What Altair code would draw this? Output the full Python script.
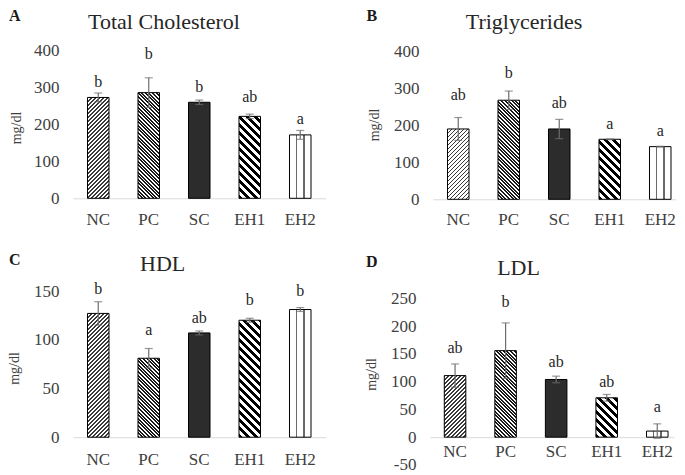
import altair as alt
import pandas as pd

# ---------------- data ----------------
groups = ["NC", "PC", "SC", "EH1", "EH2"]

tc_mean = [272, 285, 259, 221, 171]
tc_err = [12, 40, 6, 6, 12]
tc_sig = ["b", "b", "b", "ab", "a"]
tc_sig_at = [301, 375, 287, 261, 200]

tg_mean = [191, 269, 191, 163, 143]
tg_err = [31, 25, 26, 1, 1]
tg_sig = ["ab", "b", "ab", "a", "a"]
tg_sig_at = [269, 330, 249, 192, 171]

hdl_mean = [127, 81, 107, 120, 131]
hdl_err = [12, 10, 2, 2, 2]
hdl_sig = ["b", "a", "ab", "b", "b"]
hdl_sig_at = [147, 105, 117, 136, 145]

ldl_mean = [111, 156, 104, 71, 11]
ldl_err = [21, 50, 6, 6, 13]
ldl_sig = ["ab", "b", "ab", "ab", "a"]
ldl_sig_at = [151, 234, 126, 90, 46]

tc_ticks = [0, 100, 200, 300, 400]
tg_ticks = [0, 100, 200, 300, 400]
hdl_ticks = [0, 50, 100, 150]
ldl_ticks = [-50, 0, 50, 100, 150, 200, 250]

# ---------------- styles ----------------
SERIF = "Liberation Serif"
TXT = "#404040"
DARK = "#262626"
ERR = "#6e6e6e"
PAD_IN = 0.574

HATCH = {
    "NC": ("/", 4.0, 0.38, "#3a3a3a", "#ffffff"),
    "PC": ("\\", 3.6, 0.55, "#1a1a1a", "#ffffff"),
    "SC": ("solid", 0, 0, "#2c2c2c", "#2c2c2c"),
    "EH1": ("\\", 8.0, 0.5, "#000000", "#ffffff"),
    "EH2": ("v", 0, 0, "#6a6a6a", "#ffffff"),
}


def hatch_fill(group, w, h):
    kind, period, frac, dark, light = HATCH[group]
    if kind == "solid":
        return dark
    if kind == "v":
        stops = [{"offset": 0, "color": light}]
        for a, b in [(0.30, 0.36), (0.64, 0.70)]:
            stops += [
                {"offset": a, "color": light},
                {"offset": a, "color": dark},
                {"offset": b, "color": dark},
                {"offset": b, "color": light},
            ]
        stops.append({"offset": 1, "color": light})
        return {"gradient": "linear", "x1": 0, "y1": 0, "x2": 1, "y2": 0, "stops": stops}
    h = max(h, 1.0)
    span = w + h
    c = span * w * h / (w * w + h * h)
    if kind == "/":
        x1, y1, x2, y2 = 0, 0, c / h, c / w
    else:
        x1, y1, x2, y2 = 0, 1, c / h, 1 - c / w
    n = span / period
    stops = []
    k = 0
    while k / n < 1:
        a = k / n
        b = min((k + frac) / n, 1)
        e = min((k + 1) / n, 1)
        stops += [
            {"offset": round(a, 5), "color": dark},
            {"offset": round(b, 5), "color": dark},
            {"offset": round(b, 5), "color": light},
            {"offset": round(e, 5), "color": light},
        ]
        k += 1
    return {"gradient": "linear", "x1": x1, "y1": y1, "x2": x2, "y2": y2, "stops": stops}


D_PPU = 138.7 / 250
panels = [
    dict(title="Total Cholesterol", letter="A", mean=tc_mean, err=tc_err, sig=tc_sig,
         sig_at=tc_sig_at, ticks=tc_ticks, dom=[0, 400], W=252.5, H=148.3,
         pad_out=0.287, align=0.5,
         box=(-64, 290, -42, 190), tpos=(91, -37.8), lpos=(-64, -42), ypos=(-56.5, 78),
         lab_pad=13, xoff=0),
    dict(title="Triglycerides", letter="B", mean=tg_mean, err=tg_err, sig=tg_sig,
         sig_at=tg_sig_at, ticks=tg_ticks, dom=[0, 405.4], W=242.6, H=149.3,
         pad_out=0.189, align=0.759,
         box=(-69.4, 243.6, -42, 190), tpos=(91, -37.8), lpos=(-66.4, -42), ypos=(-58.4, 75),
         lab_pad=12, xoff=0),
    dict(title="HDL", letter="C", mean=hdl_mean, err=hdl_err, sig=hdl_sig,
         sig_at=hdl_sig_at, ticks=hdl_ticks, dom=[0, 150], W=252.5, H=146.2,
         pad_out=0.287, align=0.5,
         box=(-64, 290, -50.5, 183.5), tpos=(89.7, -36.6), lpos=(-64, -39.2), ypos=(-58, 77.5),
         lab_pad=14, xoff=0),
    dict(title="LDL", letter="D", mean=ldl_mean, err=ldl_err, sig=ldl_sig,
         sig_at=ldl_sig_at, ticks=ldl_ticks, dom=[-50, 250 + 7.5 / D_PPU], W=244, H=173.9,
         pad_out=0.2005, align=0.705,
         box=(-67, 246, -50.5, 183.5), tpos=(88.5, -33.3), lpos=(-64, -37.5), ypos=(-58, 83.5),
         lab_pad=6, xoff=-50 * D_PPU),
]


def make_panel(p):
    df = pd.DataFrame({
        "group": groups,
        "mean": p["mean"],
        "err": p["err"],
        "sig": p["sig"],
        "sig_at": p["sig_at"],
    })
    df["lo"] = df["mean"] - df["err"]
    df["hi"] = df["mean"] + df["err"]

    xscale = alt.Scale(domain=groups, paddingInner=PAD_IN, paddingOuter=p["pad_out"],
                       align=p["align"])
    yscale = alt.Scale(domain=p["dom"], nice=False)
    x_axis = alt.Axis(title=None, labelAngle=0, ticks=False, domainColor="#d9d9d9",
                      domainWidth=1, labelPadding=p["lab_pad"], labelFontSize=17,
                      labelFont=SERIF, labelColor=TXT, offset=p["xoff"], grid=False)
    y_axis = alt.Axis(title=None, values=p["ticks"], domain=False, ticks=False, grid=False,
                      labelPadding=14, labelFontSize=17, labelFont=SERIF, labelColor=TXT,
                      labelExpr="'' + datum.value")
    X = alt.X("group:N", scale=xscale, axis=x_axis, sort=groups)

    step = p["W"] / (len(groups) - PAD_IN + 2 * p["pad_out"])
    bw = step * (1 - PAD_IN)
    ppu = p["H"] / (p["dom"][1] - p["dom"][0])

    base = alt.Chart(df)
    layers = []
    for g, m in zip(groups, p["mean"]):
        layers.append(
            base.transform_filter(alt.datum.group == g)
            .mark_bar(fill=hatch_fill(g, bw, m * ppu), stroke="black", strokeWidth=1)
            .encode(x=X, y=alt.Y("mean:Q", scale=yscale, axis=y_axis))
        )
    layers.append(base.mark_rule(color=ERR, strokeWidth=1.2).encode(
        x=X, y=alt.Y("lo:Q", scale=yscale, axis=y_axis), y2="hi:Q"))
    layers.append(base.mark_tick(color=ERR, thickness=1.2, size=8).encode(
        x=X, y=alt.Y("hi:Q", scale=yscale, axis=y_axis)))
    layers.append(base.mark_tick(color=ERR, thickness=1.2, size=8).encode(
        x=X, y=alt.Y("lo:Q", scale=yscale, axis=y_axis)))
    layers.append(base.mark_text(font=SERIF, fontSize=16, baseline="alphabetic",
                                 fill=DARK, color=DARK).encode(
        x=X, y=alt.Y("sig_at:Q", scale=yscale, axis=y_axis), text="sig:N"))

    one = alt.Data(values=[{}])
    bx1, bx2, by1, by2 = p["box"]
    layers.append(alt.Chart(one).mark_rect(opacity=0).encode(
        x=alt.value(bx1), x2=alt.value(bx2), y=alt.value(by1), y2=alt.value(by2)))
    layers.append(alt.Chart(one).mark_text(font=SERIF, fontSize=22, fill=DARK, color=DARK,
                                           align="center", baseline="top").encode(
        x=alt.value(p["tpos"][0]), y=alt.value(p["tpos"][1]), text=alt.value(p["title"])))
    layers.append(alt.Chart(one).mark_text(font=SERIF, fontSize=16, fontWeight="bold",
                                           fill="#1a1a1a", color="#1a1a1a", align="left",
                                           baseline="top").encode(
        x=alt.value(p["lpos"][0]), y=alt.value(p["lpos"][1]), text=alt.value(p["letter"])))
    layers.append(alt.Chart(one).mark_text(font=SERIF, fontSize=14, fill=TXT, color=TXT,
                                           angle=270, align="center",
                                           baseline="middle").encode(
        x=alt.value(p["ypos"][0]), y=alt.value(p["ypos"][1]), text=alt.value("mg/dl")))

    return alt.layer(*layers).properties(width=p["W"], height=p["H"])


A, B, C, D = [make_panel(p) for p in panels]

chart = (
    alt.vconcat(
        alt.hconcat(A, B, spacing=0, bounds="full"),
        alt.hconcat(C, D, spacing=0, bounds="full"),
        spacing=0, bounds="full",
    )
    .properties(padding=0, background="white")
    .configure_view(stroke=None)
)

chart.save("out.html", embed_options={"renderer": "svg", "actions": False})
